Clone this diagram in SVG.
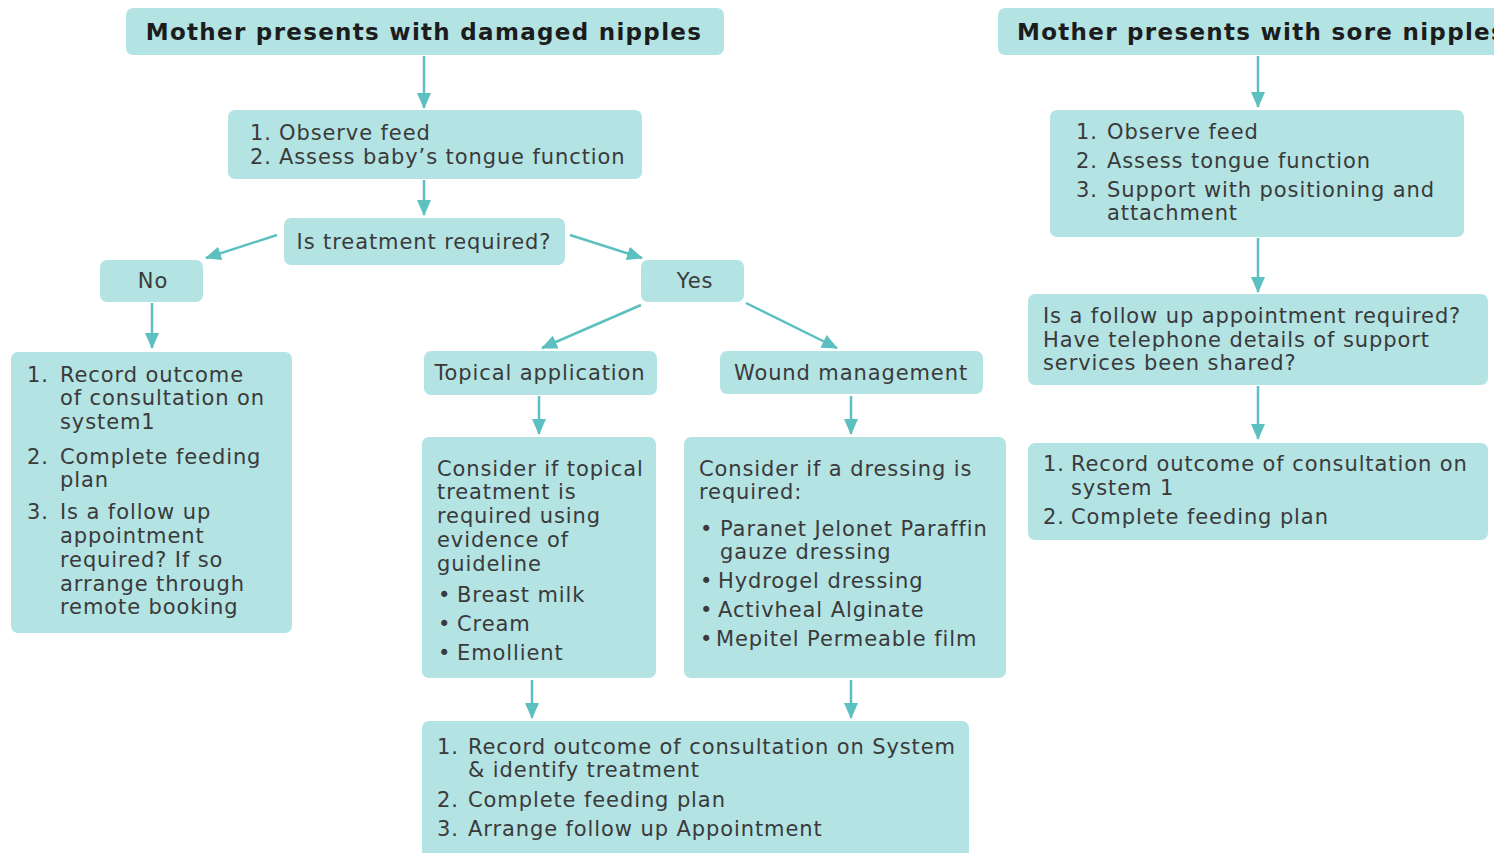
<svg xmlns="http://www.w3.org/2000/svg" width="1494" height="853" viewBox="0 0 1494 853">
<style>
.box{fill:#b3e3e3;}
.t{font-family:"DejaVu Sans","Liberation Sans",sans-serif;font-size:21px;letter-spacing:0.9px;fill:#3a3a3a;}
.h{font-family:"DejaVu Sans","Liberation Sans",sans-serif;font-size:23px;letter-spacing:1.3px;font-weight:bold;fill:#1c1c1c;}
.c{text-anchor:middle;}
.ln{stroke:#5cbfc0;stroke-width:2.5;fill:none;marker-end:url(#ah);}
</style>
<defs>
<marker id="ah" markerUnits="userSpaceOnUse" markerWidth="16" markerHeight="14" viewBox="0 0 16 14" refX="15" refY="7" orient="auto">
<path d="M0,0 L16,7 L0,14 Z" fill="#5cbfc0"/>
</marker>
</defs>
<rect width="1494" height="853" fill="#ffffff"/>
<g id="connectors">
<line class="ln" x1="424" y1="56" x2="424" y2="108"/>
<line class="ln" x1="424" y1="180" x2="424" y2="215"/>
<line class="ln" x1="277" y1="235" x2="206" y2="258"/>
<line class="ln" x1="570" y1="235" x2="642" y2="258"/>
<line class="ln" x1="152" y1="303" x2="152" y2="348"/>
<line class="ln" x1="641" y1="305" x2="542" y2="348"/>
<line class="ln" x1="746" y1="303" x2="837" y2="348"/>
<line class="ln" x1="539" y1="396" x2="539" y2="434"/>
<line class="ln" x1="851" y1="396" x2="851" y2="434"/>
<line class="ln" x1="532" y1="680" x2="532" y2="718"/>
<line class="ln" x1="851" y1="680" x2="851" y2="718"/>
<line class="ln" x1="1258" y1="56" x2="1258" y2="107"/>
<line class="ln" x1="1258" y1="238" x2="1258" y2="292"/>
<line class="ln" x1="1258" y1="386" x2="1258" y2="439"/>
</g>
<g id="title-damaged">
<rect class="box" x="126" y="8" width="598" height="47" rx="7"/>
<text class="h c" x="424" y="40">Mother presents with damaged nipples</text>
</g>
<g id="observe-damaged">
<rect class="box" x="228" y="110" width="414" height="69" rx="7"/>
<text class="t" x="250" y="140">1.</text><text class="t" x="279" y="140">Observe feed</text>
<text class="t" x="250" y="164">2.</text><text class="t" x="279" y="164">Assess baby’s tongue function</text>
</g>
<g id="treatment-q">
<rect class="box" x="284" y="218" width="281" height="47" rx="7"/>
<text class="t c" x="424" y="249">Is treatment required?</text>
</g>
<g id="no">
<rect class="box" x="100" y="260" width="103" height="42" rx="7"/>
<text class="t c" x="153" y="288">No</text>
</g>
<g id="yes">
<rect class="box" x="641" y="260" width="103" height="42" rx="7"/>
<text class="t c" x="695" y="288">Yes</text>
</g>
<g id="no-outcome">
<rect class="box" x="11" y="352" width="281" height="281" rx="7"/>
<text class="t" x="27" y="382">1.</text>
<text class="t" x="60" y="382">Record outcome</text>
<text class="t" x="60" y="405">of consultation on</text>
<text class="t" x="60" y="429">system1</text>
<text class="t" x="27" y="464">2.</text>
<text class="t" x="60" y="464">Complete feeding</text>
<text class="t" x="60" y="487">plan</text>
<text class="t" x="27" y="519">3.</text>
<text class="t" x="60" y="519">Is a follow up</text>
<text class="t" x="60" y="543">appointment</text>
<text class="t" x="60" y="567">required? If so</text>
<text class="t" x="60" y="591">arrange through</text>
<text class="t" x="60" y="614">remote booking</text>
</g>
<g id="topical">
<rect class="box" x="424" y="351" width="233" height="44" rx="7"/>
<text class="t c" x="540" y="380">Topical application</text>
</g>
<g id="wound">
<rect class="box" x="720" y="351" width="263" height="43" rx="7"/>
<text class="t c" x="851" y="380">Wound management</text>
</g>
<g id="topical-detail">
<rect class="box" x="422" y="437" width="234" height="241" rx="7"/>
<text class="t" x="437" y="476">Consider if topical</text>
<text class="t" x="437" y="499">treatment is</text>
<text class="t" x="437" y="523">required using</text>
<text class="t" x="437" y="547">evidence of</text>
<text class="t" x="437" y="571">guideline</text>
<text class="t" x="438" y="602">•</text><text class="t" x="457" y="602">Breast milk</text>
<text class="t" x="438" y="631">•</text><text class="t" x="457" y="631">Cream</text>
<text class="t" x="438" y="660">•</text><text class="t" x="457" y="660">Emollient</text>
</g>
<g id="wound-detail">
<rect class="box" x="684" y="437" width="322" height="241" rx="7"/>
<text class="t" x="699" y="476">Consider if a dressing is</text>
<text class="t" x="699" y="499">required:</text>
<text class="t" x="700" y="536">•</text><text class="t" x="720" y="536">Paranet Jelonet Paraffin</text>
<text class="t" x="720" y="559">gauze dressing</text>
<text class="t" x="700" y="588">•</text><text class="t" x="718" y="588">Hydrogel dressing</text>
<text class="t" x="700" y="617">•</text><text class="t" x="718" y="617">Activheal Alginate</text>
<text class="t" x="700" y="646">•</text><text class="t" x="716" y="646">Mepitel Permeable film</text>
</g>
<g id="yes-outcome">
<rect class="box" x="422" y="721" width="547" height="140" rx="7"/>
<text class="t" x="437" y="754">1.</text><text class="t" x="468" y="754">Record outcome of consultation on System</text>
<text class="t" x="468" y="777">&amp; identify treatment</text>
<text class="t" x="437" y="807">2.</text><text class="t" x="468" y="807">Complete feeding plan</text>
<text class="t" x="437" y="836">3.</text><text class="t" x="468" y="836">Arrange follow up Appointment</text>
</g>
<g id="title-sore">
<rect class="box" x="998" y="8" width="510" height="47" rx="7"/>
<text class="h" x="1017" y="40">Mother presents with sore nipples</text>
</g>
<g id="observe-sore">
<rect class="box" x="1050" y="110" width="414" height="127" rx="7"/>
<text class="t" x="1076" y="139">1.</text><text class="t" x="1107" y="139">Observe feed</text>
<text class="t" x="1076" y="168">2.</text><text class="t" x="1107" y="168">Assess tongue function</text>
<text class="t" x="1076" y="197">3.</text><text class="t" x="1107" y="197">Support with positioning and</text>
<text class="t" x="1107" y="220">attachment</text>
</g>
<g id="followup-q">
<rect class="box" x="1028" y="294" width="460" height="91" rx="7"/>
<text class="t" x="1043" y="323">Is a follow up appointment required?</text>
<text class="t" x="1043" y="347">Have telephone details of support</text>
<text class="t" x="1043" y="370">services been shared?</text>
</g>
<g id="sore-outcome">
<rect class="box" x="1028" y="443" width="460" height="97" rx="7"/>
<text class="t" x="1043" y="471">1.</text><text class="t" x="1071" y="471">Record outcome of consultation on</text>
<text class="t" x="1071" y="495">system 1</text>
<text class="t" x="1043" y="524">2.</text><text class="t" x="1071" y="524">Complete feeding plan</text>
</g>
</svg>
